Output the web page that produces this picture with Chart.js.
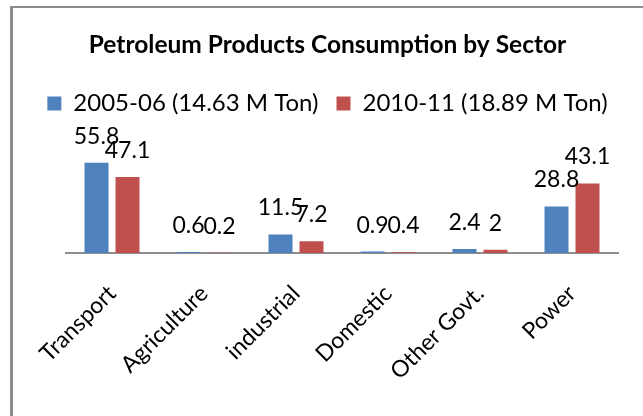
<!DOCTYPE html>
<html>
<head>
<meta charset="utf-8">
<script src="https://cdn.jsdelivr.net/npm/chart.js@4/dist/chart.umd.min.js"></script>
<style>
  body { margin: 0; background: #fff; }
  #frame { position: absolute; left: 10px; top: 6px; width: 640px; height: 420px;
           border-left: 3px solid #8c8c8c; border-top: 2px solid #8c8c8c; }
  #wrap { position: absolute; left: 12px; top: 8px; width: 631px; height: 408px; }
</style>
</head>
<body>
<div id="frame"></div>
<div id="wrap"><canvas id="myChart" width="631" height="408"></canvas></div>
<script>
var sectors = ["Transport", "Agriculture", "industrial", "Domestic", "Other Govt.", "Power"];
var seriesNames = ["2005-06 (14.63 M Ton)", "2010-11 (18.89 M Ton)"];
var values0506 = [55.8, 0.6, 11.5, 0.9, 2.4, 28.8];
var values1011 = [47.1, 0.2, 7.2, 0.4, 2, 43.1];

Chart.defaults.font.family = "Lato";
Chart.defaults.color = "#000";

// value labels above each bar (no datalabels plugin available offline)
var barLabels = {
    id: 'barLabels',
    afterDatasetsDraw: function (chart) {
        var ctx = chart.ctx;
        ctx.save();
        ctx.font = '23px Lato';
        ctx.fillStyle = '#000';
        ctx.textAlign = 'center';
        ctx.textBaseline = 'alphabetic';
        chart.data.datasets.forEach(function (ds, i) {
            chart.getDatasetMeta(i).data.forEach(function (bar, j) {
                ctx.fillText(String(ds.data[j]), bar.x, bar.y - 19);
            });
        });
        ctx.restore();
    }
};

function renderChart() {
    var ctx = document.getElementById("myChart").getContext('2d');
    new Chart(ctx, {
        type: 'bar',
        data: {
            labels: sectors,
            datasets: [{
                label: seriesNames[0],
                data: values0506,
                backgroundColor: '#4F81BD',
                borderWidth: 0
            }, {
                label: seriesNames[1],
                data: values1011,
                backgroundColor: '#C0504D',
                borderWidth: 0
            }]
        },
        options: {
            responsive: false,
            animation: false,
            categoryPercentage: 0.674,
            barPercentage: 0.774,
            layout: { padding: 0 },
            plugins: {
                title: {
                    display: true,
                    text: 'Petroleum Products Consumption by Sector',
                    color: '#000',
                    font: { size: 24.5, weight: 'bold' },
                    padding: { top: 22, bottom: 14 }
                },
                legend: {
                    labels: {
                        boxWidth: 14,
                        boxHeight: 14,
                        padding: 18,
                        color: '#000',
                        font: { size: 24 }
                    }
                },
                tooltip: { enabled: false }
            },
            scales: {
                x: {
                    grid: { display: false, drawTicks: false },
                    border: { display: true, color: '#8e8e8e', width: 2 },
                    ticks: {
                        color: '#000',
                        font: { size: 23 },
                        minRotation: 45,
                        maxRotation: 45,
                        autoSkip: false,
                        padding: 27
                    },
                    afterFit: function (s) { s.height = 163; }
                },
                y: {
                    min: 0,
                    max: 79,
                    grid: { display: false },
                    border: { display: false },
                    ticks: { display: false },
                    afterFit: function (s) { s.width = 54; }
                },
                yRight: {
                    type: 'linear',
                    position: 'right',
                    grid: { display: false },
                    border: { display: false },
                    ticks: { display: false },
                    afterFit: function (s) { s.width = 25; }
                }
            }
        },
        plugins: [barLabels]
    });
}

renderChart();
</script>
</body>
</html>
